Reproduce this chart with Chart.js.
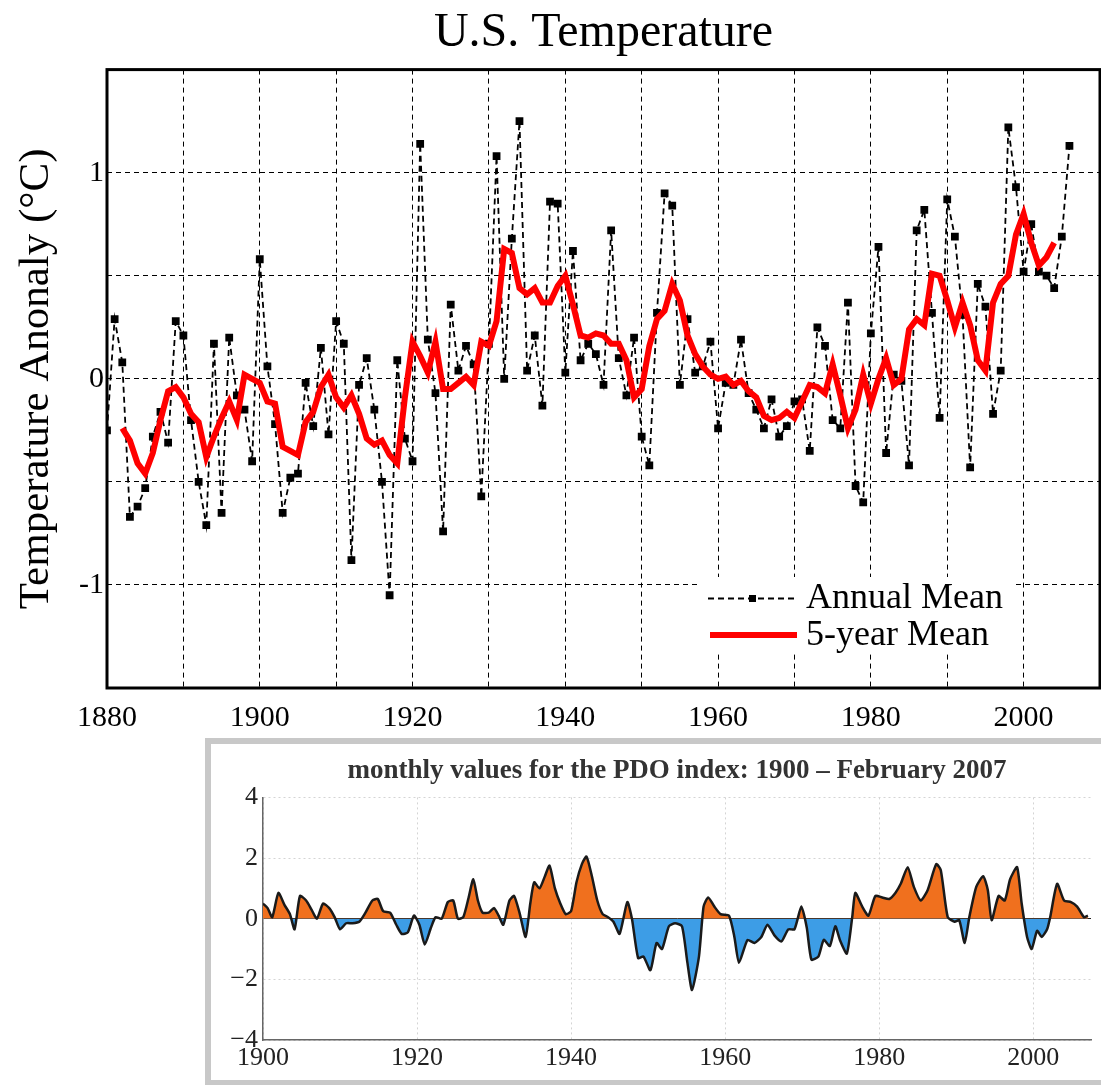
<!DOCTYPE html>
<html>
<head>
<meta charset="utf-8">
<title>U.S. Temperature</title>
<script src="https://cdn.jsdelivr.net/npm/chart.js@4.4.0/dist/chart.umd.min.js"></script>
<style>
  html, body { margin: 0; padding: 0; background: #fff; overflow: hidden; }
  #page { position: relative; width: 1101px; height: 1085px; overflow: hidden; }
  #usChart { position: absolute; left: 0; top: 0; }
  #pdoFrame { position: absolute; left: 205px; top: 738px; width: 900px; height: 336px;
              border: 6px solid #c8c8c8; background: #fff; }
  #pdoChart { position: absolute; left: 0; top: 0; }
</style>
</head>
<body>
<div id="page">
  <canvas id="usChart" width="1112" height="740"></canvas>
  <div id="pdoFrame">
    <canvas id="pdoChart" width="890" height="336"></canvas>
  </div>
</div>

<script>
// U.S. temperature anomaly, one value per year from 1880
const annualStart = 1880;
const annualMean = [
  -0.25, 0.29, 0.08, -0.67, -0.62, -0.53, -0.28, -0.16, -0.31, 0.28,   // 1880s
  0.21, -0.20, -0.50, -0.71, 0.17, -0.65, 0.20, -0.08, -0.15, -0.40,   // 1890s
  0.58, 0.06, -0.22, -0.65, -0.48, -0.46, -0.02, -0.23, 0.15, -0.27,   // 1900s
  0.28, 0.17, -0.88, -0.03, 0.10, -0.15, -0.50, -1.05, 0.09, -0.29,    // 1910s
  -0.40, 1.14, 0.19, -0.07, -0.74, 0.36, 0.04, 0.16, 0.07, -0.57,      // 1920s
  0.17, 1.08, 0.00, 0.68, 1.25, 0.04, 0.21, -0.13, 0.86, 0.85,         // 1930s
  0.03, 0.62, 0.09, 0.17, 0.12, -0.03, 0.72, 0.10, -0.08, 0.20,        // 1940s
  -0.28, -0.42, 0.32, 0.90, 0.84, -0.03, 0.29, 0.03, 0.06, 0.18,       // 1950s
  -0.24, -0.02, -0.03, 0.19, -0.07, -0.15, -0.24, -0.10, -0.28, -0.23, // 1960s
  -0.11, -0.10, -0.35, 0.25, 0.16, -0.20, -0.24, 0.37, -0.52, -0.60,   // 1970s
  0.22, 0.64, -0.36, 0.02, -0.01, -0.42, 0.72, 0.82, 0.32, -0.19,      // 1980s
  0.87, 0.69, 0.31, -0.43, 0.46, 0.35, -0.17, 0.04, 1.22, 0.93,        // 1990s
  0.52, 0.75, 0.52, 0.50, 0.44, 0.69, 1.13                             // 2000s
];

// 5-year running mean, from 1882
const meanStart = 1882;
const fiveYearMean = [
  -0.24, -0.30, -0.41, -0.46, -0.36, -0.20, -0.06, -0.04,
  -0.09, -0.17, -0.21, -0.38, -0.28, -0.19, -0.11, -0.20, 0.02, 0.00,
  -0.02, -0.11, -0.12, -0.33, -0.35, -0.37, -0.21, -0.16, -0.04, 0.02,
  -0.09, -0.14, -0.08, -0.17, -0.29, -0.32, -0.30, -0.37, -0.41, -0.09,
  0.18, 0.11, 0.03, 0.18, -0.05, -0.05, -0.02, 0.01, -0.03, 0.18,
  0.16, 0.28, 0.63, 0.61, 0.44, 0.41, 0.44, 0.37, 0.37, 0.45,
  0.50, 0.36, 0.21, 0.20, 0.22, 0.21, 0.17, 0.17, 0.09, -0.09,
  -0.05, 0.16, 0.29, 0.33, 0.46, 0.38, 0.21, 0.12, 0.06, 0.02,
  0.00, 0.01, -0.03, -0.01, -0.06, -0.09, -0.18, -0.20, -0.19, -0.16,
  -0.19, -0.11, -0.03, -0.04, -0.07, 0.07, -0.08, -0.24, -0.15, 0.02,
  -0.12, 0.00, 0.10, -0.03, 0.00, 0.24, 0.29, 0.26, 0.51, 0.50,
  0.38, 0.25, 0.37, 0.26, 0.09, 0.04, 0.37, 0.46, 0.50, 0.70,
  0.80, 0.66, 0.55, 0.59, 0.66
];

const usYearLabels = [1880, 1900, 1920, 1940, 1960, 1980, 2000];
const usTempLabels = [-1, 0, 1];

// PDO index, smoothed curve
const pdoYears = [
  1900.0, 1900.6, 1901.2, 1902.0, 1902.8, 1903.5, 1904.1, 1904.8, 1905.6, 1906.3,
  1907.0, 1907.8, 1908.6, 1909.3, 1910.0, 1910.8, 1911.6, 1912.5, 1913.3, 1914.2,
  1914.9, 1915.6, 1916.5, 1917.3, 1918.0, 1918.8, 1919.6, 1920.3, 1921.0, 1921.8,
  1922.4, 1923.2, 1924.0, 1924.7, 1925.3, 1926.0, 1926.7, 1927.3, 1927.9, 1928.5,
  1929.3, 1930.0, 1930.6, 1931.2, 1932.0, 1932.6, 1933.3, 1934.1, 1934.7, 1935.2,
  1935.9, 1936.6, 1937.2, 1937.9, 1938.6, 1939.3, 1940.0, 1940.7, 1941.4, 1942.0,
  1942.7, 1943.4, 1944.1, 1944.8, 1945.5, 1946.3, 1947.3, 1947.9, 1948.7, 1949.4,
  1950.3, 1951.1, 1951.8, 1952.7, 1953.5, 1954.4, 1955.1, 1955.7, 1956.6, 1957.2,
  1957.8, 1958.6, 1959.4, 1960.5, 1961.2, 1961.8, 1962.9, 1963.8, 1964.7, 1965.5,
  1966.4, 1967.3, 1968.2, 1969.0, 1969.9, 1970.6, 1971.2, 1972.1, 1972.8, 1973.6,
  1974.3, 1974.9, 1975.8, 1976.5, 1976.9, 1977.8, 1978.6, 1979.5, 1980.4, 1981.3,
  1982.1, 1982.8, 1983.7, 1984.5, 1985.4, 1986.3, 1987.4, 1988.0, 1988.9, 1989.8,
  1990.4, 1991.1, 1991.7, 1992.6, 1993.5, 1994.1, 1994.6, 1995.5, 1996.3, 1997.0,
  1997.9, 1998.5, 1999.2, 1999.8, 2000.5, 2001.1, 2001.8, 2002.2, 2003.1, 2004.0,
  2004.9, 2005.7, 2006.6, 2007.1
];
const pdoSmoothed = [
  0.50, 0.35, 0.05, 0.85, 0.45, 0.15, -0.35, 0.75, 0.60, 0.30,
  0.00, 0.50, 0.35, 0.05, -0.35, -0.15, -0.15, -0.10, 0.20, 0.60,
  0.65, 0.25, 0.20, -0.20, -0.50, -0.45, 0.10, -0.20, -0.85, -0.30,
  0.05, 0.00, 0.55, 0.60, 0.00, 0.05, 0.70, 1.30, 0.60, 0.20,
  0.20, 0.35, 0.10, -0.20, 0.60, 0.75, 0.20, -0.60, 0.50, 1.20,
  1.00, 1.40, 1.75, 1.00, 0.50, 0.15, 0.25, 1.20, 1.80, 2.05,
  1.40, 0.60, 0.15, 0.05, -0.10, -0.50, 0.55, 0.00, -1.30, -1.25,
  -1.70, -0.80, -1.00, -0.25, -0.15, -0.25, -1.45, -2.35, -1.25, 0.40,
  0.70, 0.40, 0.15, 0.10, -0.60, -1.45, -0.70, -0.80, -0.60, -0.20,
  -0.55, -0.75, -0.35, -0.35, 0.40, -0.30, -1.35, -1.25, -0.70, -0.90,
  -0.25, -0.70, -1.15, 0.05, 0.85, 0.40, 0.10, 0.75, 0.70, 0.65,
  0.85, 1.15, 1.70, 1.05, 0.60, 0.95, 1.80, 1.60, 0.05, -0.10,
  -0.05, -0.80, 0.05, 1.05, 1.40, 0.95, -0.05, 0.75, 0.60, 1.30,
  1.70, 0.50, -0.60, -1.00, -0.40, -0.60, -0.35, 0.05, 1.15, 0.60,
  0.55, 0.40, 0.05, 0.10
];

const pdoYearLabels = [1900, 1920, 1940, 1960, 1980, 2000];
const pdoValueLabels = [-4, -2, 0, 2, 4];

const SERIF = '"Liberation Serif", "DejaVu Serif", serif';

// frame round the plot plus the legend box in the lower right
const usFramePlugin = {
  id: 'usFrame',
  afterDraw(chart) {
    const ctx = chart.ctx;
    const a = chart.chartArea;
    ctx.save();
    ctx.strokeStyle = '#000';
    ctx.lineWidth = 3;
    ctx.strokeRect(a.left, a.top, a.right - a.left, a.bottom - a.top);

    // legend
    ctx.fillStyle = '#fff';
    ctx.fillRect(701, 577, 312, 74);

    ctx.strokeStyle = '#000';
    ctx.lineWidth = 1.8;
    ctx.setLineDash([6, 4]);
    ctx.beginPath();
    ctx.moveTo(708, 598.5);
    ctx.lineTo(798, 598.5);
    ctx.stroke();
    ctx.setLineDash([]);
    ctx.fillStyle = '#000';
    ctx.fillRect(749, 595, 7, 7);

    ctx.strokeStyle = '#ff0000';
    ctx.lineWidth = 6;
    ctx.beginPath();
    ctx.moveTo(710, 635);
    ctx.lineTo(797, 635);
    ctx.stroke();

    ctx.fillStyle = '#000';
    ctx.font = '36px ' + SERIF;
    ctx.textBaseline = 'alphabetic';
    ctx.textAlign = 'left';
    ctx.fillText('Annual Mean', 806, 608);
    ctx.fillText('5-year Mean', 806, 645);
    ctx.restore();
  }
};

new Chart(document.getElementById('usChart'), {
  type: 'line',
  data: {
    datasets: [
      {
        label: '5-year Mean',
        data: fiveYearMean.map((v, i) => ({ x: meanStart + i, y: v })),
        borderColor: '#ff0000',
        borderWidth: 6,
        pointRadius: 0,
        tension: 0,
        fill: false
      },
      {
        label: 'Annual Mean',
        data: annualMean.map((v, i) => ({ x: annualStart + i, y: v })),
        borderColor: '#000',
        borderWidth: 1.8,
        borderDash: [6, 4],
        pointStyle: 'rect',
        pointRadius: 5.5,
        pointBackgroundColor: '#000',
        pointBorderWidth: 0,
        tension: 0,
        fill: false
      }
    ]
  },
  options: {
    responsive: false,
    animation: false,
    layout: { padding: 0 },
    plugins: {
      legend: { display: false },
      tooltip: { enabled: false },
      title: {
        display: true,
        text: 'U.S. Temperature',
        fullSize: false,
        color: '#000',
        font: { family: SERIF, size: 48, weight: 'normal' },
        padding: { top: 5, bottom: 7 }
      }
    },
    scales: {
      x: {
        type: 'linear',
        min: 1880,
        max: 2010,
        afterFit: s => { s.height = 52; },
        ticks: {
          stepSize: 10,
          autoSkip: false,
          maxRotation: 0,
          padding: 12,
          color: '#000',
          font: { family: SERIF, size: 30 },
          callback: v => usYearLabels.includes(v) ? String(v) : ''
        },
        grid: { color: '#000', lineWidth: 1, drawTicks: false },
        border: { display: false, dash: [5, 4] }
      },
      y: {
        min: -1.5,
        max: 1.5,
        afterFit: s => { s.width = 107; },
        ticks: {
          stepSize: 0.5,
          padding: 3,
          color: '#000',
          font: { family: SERIF, size: 30 },
          callback: v => usTempLabels.includes(v) ? String(v) : ''
        },
        grid: { color: '#000', lineWidth: 1, drawTicks: false },
        border: { display: false, dash: [5, 4] },
        title: {
          display: true,
          text: 'Temperature Anonaly (°C)',
          color: '#000',
          font: { family: SERIF, size: 43 },
          padding: { top: 11, bottom: 0 }
        }
      }
    }
  },
  plugins: [usFramePlugin]
});

// PDO inset
new Chart(document.getElementById('pdoChart'), {
  type: 'line',
  data: {
    datasets: [{
      label: 'PDO',
      data: pdoSmoothed.map((v, i) => ({ x: pdoYears[i], y: v })),
      borderColor: '#1a1a1a',
      borderWidth: 2.5,
      pointRadius: 0,
      tension: 0.2,
      fill: { target: { value: 0 }, above: '#f0701e', below: '#3d9de6' }
    }]
  },
  options: {
    responsive: false,
    animation: false,
    layout: { padding: { right: 10 } },
    plugins: {
      legend: { display: false },
      tooltip: { enabled: false },
      title: {
        display: true,
        text: 'monthly values for the PDO index: 1900 \u2013 February 2007',
        fullSize: false,
        color: '#333',
        font: { family: SERIF, size: 27, weight: 'bold' },
        padding: { top: 11, bottom: 10 }
      }
    },
    scales: {
      x: {
        type: 'linear',
        min: 1900,
        max: 2007.5,
        afterFit: s => { s.height = 40; },
        afterBuildTicks: s => { s.ticks = pdoYearLabels.map(v => ({ value: v })); },
        ticks: {
          autoSkip: false,
          maxRotation: 0,
          padding: 3,
          color: '#222',
          font: { family: SERIF, size: 26 },
          callback: v => String(v)
        },
        grid: { color: '#d4d4d4', lineWidth: 1, drawTicks: false },
        border: { display: true, color: '#666', width: 1.5, dash: [2, 3] }
      },
      y: {
        min: -4,
        max: 4,
        afterFit: s => { s.width = 52; },
        afterBuildTicks: s => { s.ticks = pdoValueLabels.map(v => ({ value: v })); },
        ticks: {
          padding: 5,
          color: '#222',
          font: { family: SERIF, size: 26 },
          callback: v => String(v).replace('-', '\u2212')
        },
        grid: {
          color: c => c.tick && c.tick.value === 0 ? '#222' : '#d4d4d4',
          lineWidth: 1,
          drawTicks: false
        },
        border: {
          display: true, color: '#666', width: 1.5,
          dash: c => c.tick && c.tick.value === 0 ? [] : [2, 3]
        }
      }
    }
  }
});
</script>
</body>
</html>
